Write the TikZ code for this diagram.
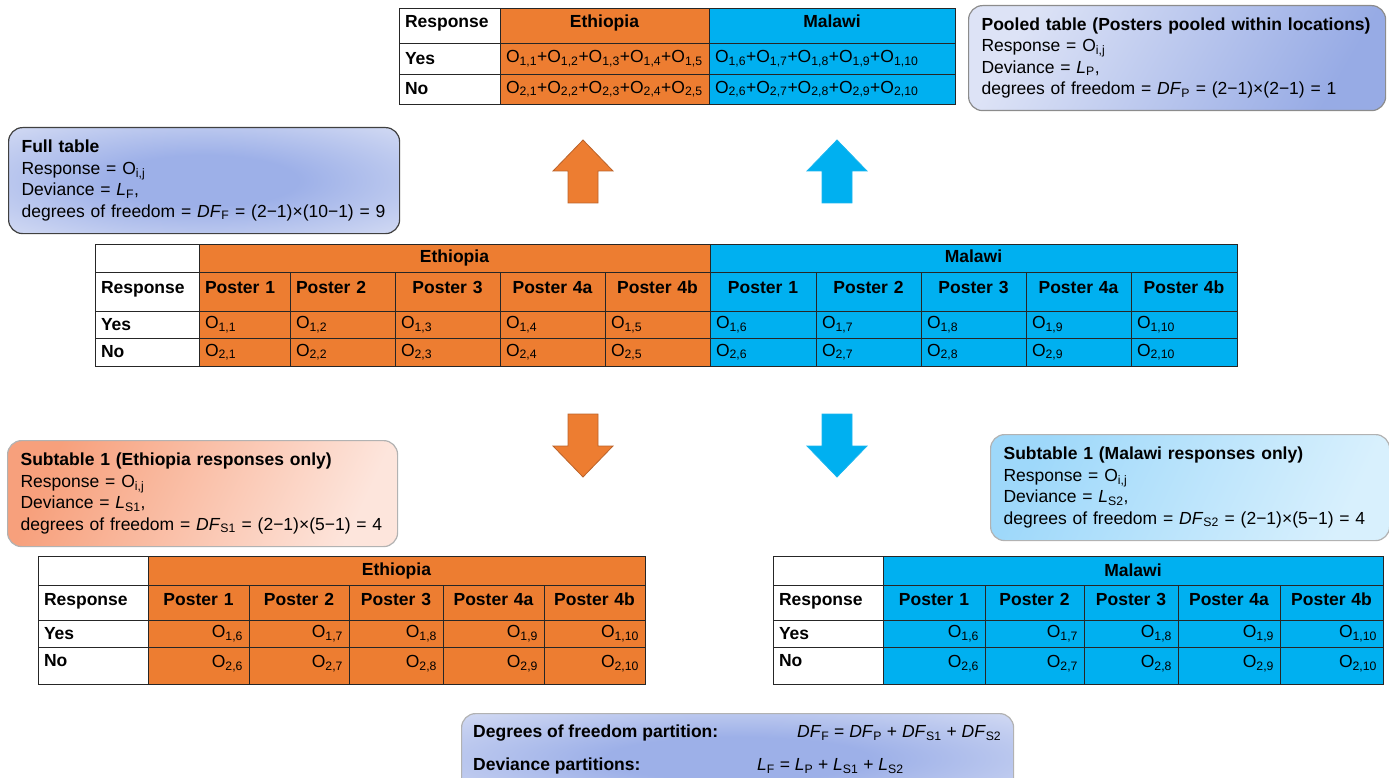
\documentclass[tikz,border=0pt]{standalone}
\usepackage{fontspec}
\setmainfont{Liberation Sans}
\usepackage{xcolor}
\usepackage{tikz}
\usetikzlibrary{positioning}
\definecolor{ethorange}{HTML}{ED7D31}
\definecolor{ethedge}{HTML}{BA622A}
\definecolor{malblue}{HTML}{00B0F0}
\definecolor{maledge}{HTML}{1AB5EE}
\definecolor{poolpale}{HTML}{DDE3F6}
\definecolor{pooldark}{HTML}{97ABE5}
\definecolor{fullmid}{HTML}{9DB0E8}
\definecolor{fullout}{HTML}{E0E5F6}
\definecolor{ethdark}{HTML}{F7A07C}
\definecolor{ethpale}{HTML}{FDE5DC}
\definecolor{maldark}{HTML}{9ED8FA}
\definecolor{malpale}{HTML}{D8F0FD}
\pgfdeclareradialshading{softradial}{\pgfpoint{0bp}{0bp}}{color(0bp)=(fullmid);
  color(12bp)=(fullmid); color(42bp)=(fullout); color(50bp)=(fullout)}

\newcommand{\bodyfont}{\fontsize{17.5}{21.5}\selectfont}
\newcommand{\Osub}[1]{O\textsubscript{#1}}
\newcommand{\Lsub}[1]{\textit{L}\textsubscript{#1}}
\newcommand{\DFsub}[1]{\textit{DF}\textsubscript{#1}}
% table cell: name, style, x, y (north west), width, height, text
\newcommand{\tabcell}[7]{%
  \pgfmathsetmacro\cellw{#5-12}%
  \node[#2, minimum width=#5, minimum height=#6, text width=\cellw pt] (#1) at (#3,#4) {#7};}

\tikzset{
  cell/.style={draw=black!85, line width=0.9pt, anchor=north west, inner xsep=6pt,
               inner ysep=0pt, outer sep=0pt, font=\bodyfont, fill=white},
  lcell/.style={cell, font=\bodyfont\bfseries, align=left},
  hcell/.style={cell, font=\bodyfont\bfseries, align=center},
  ocell/.style={cell, align=left},
  rcell/.style={cell, align=right},
  raise/.style={text depth=#1pt},
  infobox/.style={rounded corners=14pt, anchor=north west, align=left, font=\bodyfont,
                  inner xsep=13pt, inner ysep=0pt, line width=1.2pt},
  eqtext/.style={anchor=west, inner sep=0pt, font=\bodyfont},
  blockarrow/.pic={\path[pic actions] (0,0) -- (30,31) -- (15,31) -- (15,63)
                   -- (-15,63) -- (-15,31) -- (-30,31) -- cycle;}
}

\begin{document}
\begin{tikzpicture}[x=1pt, y=-1pt]
\path[use as bounding box, clip] (0,0) rectangle (1389,778);

% Pooled table (top)
\tabcell{presp}{lcell, raise=8}{399}{8}{101}{35}{Response}
\tabcell{peth}{hcell, raise=8, fill=ethorange}{500}{8}{209}{35}{Ethiopia}
\tabcell{pmal}{hcell, raise=8, fill=malblue}{709}{8}{246}{35}{Malawi}
\tabcell{prowyes}{lcell}{399}{43}{101}{31}{Yes}
\tabcell{prowno}{lcell}{399}{74}{101}{30}{No}
\tabcell{pyeseth}{ocell, fill=ethorange, inner xsep=4pt}{500}{43}{209}{31}{\Osub{1,1}+\Osub{1,2}+\Osub{1,3}+\Osub{1,4}+\Osub{1,5}}
\tabcell{pyesmal}{ocell, fill=malblue, inner xsep=4pt}{709}{43}{246}{31}{\Osub{1,6}+\Osub{1,7}+\Osub{1,8}+\Osub{1,9}+\Osub{1,10}}
\tabcell{pnoeth}{ocell, fill=ethorange, inner xsep=4pt}{500}{74}{209}{30}{\Osub{2,1}+\Osub{2,2}+\Osub{2,3}+\Osub{2,4}+\Osub{2,5}}
\tabcell{pnomal}{ocell, fill=malblue, inner xsep=4pt}{709}{74}{246}{30}{\Osub{2,6}+\Osub{2,7}+\Osub{2,8}+\Osub{2,9}+\Osub{2,10}}

% Info boxes
\node[infobox, draw=black!45, top color=poolpale, bottom color=pooldark, shading angle=60,
      minimum width=417, minimum height=105, text width=391pt] (poolbox) at (968,5)
  {\textbf{Pooled table (Posters pooled within locations)}\\
   Response = \Osub{i,j}\\ Deviance = \Lsub{P},\\
   degrees of freedom = \DFsub{P} = (2−1)×(2−1) = 1};
\node[infobox, draw=black!75, shading=softradial,
      minimum width=391, minimum height=106, text width=365pt] (fullbox) at (8,127)
  {\textbf{Full table}\\ Response = \Osub{i,j}\\ Deviance = \Lsub{F},\\
   degrees of freedom = \DFsub{F} = (2−1)×(10−1) = 9};
\node[infobox, draw=black!30, top color=ethdark, bottom color=ethpale, shading angle=65,
      minimum width=390, minimum height=106, text width=364pt] (ethbox) at (7,440)
  {\textbf{Subtable 1 (Ethiopia responses only)}\\ Response = \Osub{i,j}\\
   Deviance = \Lsub{S1},\\ degrees of freedom = \DFsub{S1} = (2−1)×(5−1) = 4};
\node[infobox, draw=black!30, top color=maldark, bottom color=malpale, shading angle=65,
      minimum width=399, minimum height=106, text width=373pt] (malbox) at (990,434)
  {\textbf{Subtable 1 (Malawi responses only)}\\ Response = \Osub{i,j}\\
   Deviance = \Lsub{S2},\\ degrees of freedom = \DFsub{S2} = (2−1)×(5−1) = 4};

% Block arrows
\pic[fill=ethorange, draw=ethedge, line width=0.8pt] (upeth) at (583,140) {blockarrow};
\pic[fill=malblue, draw=maledge, line width=0.8pt] (upmal) at (837,140) {blockarrow};
\pic[fill=ethorange, draw=ethedge, line width=0.8pt, rotate=180] (downeth) at (583,477) {blockarrow};
\pic[fill=malblue, draw=maledge, line width=0.8pt, rotate=180] (downmal) at (837,477) {blockarrow};

% Full table (middle)
\tabcell{fcorner}{cell}{95}{244}{104}{28}{}
\tabcell{feth}{hcell, raise=3, fill=ethorange}{199}{244}{511}{28}{Ethiopia}
\tabcell{fmal}{hcell, raise=3, fill=malblue}{710}{244}{527}{28}{Malawi}
\tabcell{fresp}{lcell, raise=8}{95}{272}{104}{39}{Response}
\tabcell{frowyes}{lcell}{95}{311}{104}{27}{Yes}
\tabcell{frowno}{lcell}{95}{338}{104}{28}{No}
\foreach \xl/\w/\col/\sty/\lab [count=\i] in {199/91/ethorange/lcell/Poster 1,
    290/105/ethorange/lcell/Poster 2, 395/105/ethorange/hcell/Poster 3,
    500/105/ethorange/hcell/Poster 4a, 605/105/ethorange/hcell/Poster 4b,
    710/106/malblue/hcell/Poster 1, 816/105/malblue/hcell/Poster 2,
    921/105/malblue/hcell/Poster 3, 1026/105/malblue/hcell/Poster 4a,
    1131/106/malblue/hcell/Poster 4b}{
  \tabcell{fpost\i}{\sty, raise=8, fill=\col}{\xl}{272}{\w}{39}{\lab}
  \tabcell{fyes\i}{ocell, fill=\col}{\xl}{311}{\w}{27}{\Osub{1,\i}}
  \tabcell{fno\i}{ocell, fill=\col}{\xl}{338}{\w}{28}{\Osub{2,\i}}
}

% Subtable Ethiopia (bottom left)
\tabcell{ecorner}{cell}{38}{556}{110}{29}{}
\tabcell{eeth}{hcell, fill=ethorange}{148}{556}{497}{29}{Ethiopia}
\tabcell{eresp}{lcell, raise=7}{38}{585}{110}{35}{Response}
\tabcell{erowyes}{lcell}{38}{620}{110}{27}{Yes}
\tabcell{erowno}{lcell, raise=10}{38}{647}{110}{37}{No}
\foreach \xl/\w/\lab [count=\i from 6] in {148/101/Poster 1, 249/100/Poster 2,
    349/94/Poster 3, 443/101/Poster 4a, 544/101/Poster 4b}{
  \tabcell{epost\i}{hcell, raise=7, fill=ethorange}{\xl}{585}{\w}{35}{\lab}
  \tabcell{eyes\i}{rcell, fill=ethorange}{\xl}{620}{\w}{27}{\Osub{1,\i}}
  \tabcell{eno\i}{rcell, raise=8, fill=ethorange}{\xl}{647}{\w}{37}{\Osub{2,\i}}
}

% Subtable Malawi (bottom right)
\tabcell{mcorner}{cell}{773}{556}{110}{29}{}
\tabcell{mmal}{hcell, fill=malblue}{883}{556}{500}{29}{Malawi}
\tabcell{mresp}{lcell, raise=7}{773}{585}{110}{35}{Response}
\tabcell{mrowyes}{lcell}{773}{620}{110}{27}{Yes}
\tabcell{mrowno}{lcell, raise=10}{773}{647}{110}{37}{No}
\foreach \xl/\w/\lab [count=\i from 6] in {883/102/Poster 1, 985/99/Poster 2,
    1084/94/Poster 3, 1178/102/Poster 4a, 1280/103/Poster 4b}{
  \tabcell{mpost\i}{hcell, raise=7, fill=malblue}{\xl}{585}{\w}{35}{\lab}
  \tabcell{myes\i}{rcell, fill=malblue}{\xl}{620}{\w}{27}{\Osub{1,\i}}
  \tabcell{mno\i}{rcell, raise=8, fill=malblue}{\xl}{647}{\w}{37}{\Osub{2,\i}}
}

% Partition box (bottom)
\node[infobox, draw=black!30, shading=softradial,
      minimum width=552, minimum height=90] (partbox) at (461,713) {};
\node[eqtext, font=\bodyfont\bfseries] (dflabel) at (473,733) {Degrees of freedom partition:};
\node[eqtext] (dfeq) at (797,733) {\DFsub{F} = \DFsub{P} + \DFsub{S1} + \DFsub{S2}};
\node[eqtext, font=\bodyfont\bfseries] (devlabel) at (473,766) {Deviance partitions:};
\node[eqtext] (deveq) at (757,766) {\Lsub{F} = \Lsub{P} + \Lsub{S1} + \Lsub{S2}};

\end{tikzpicture}
\end{document}
